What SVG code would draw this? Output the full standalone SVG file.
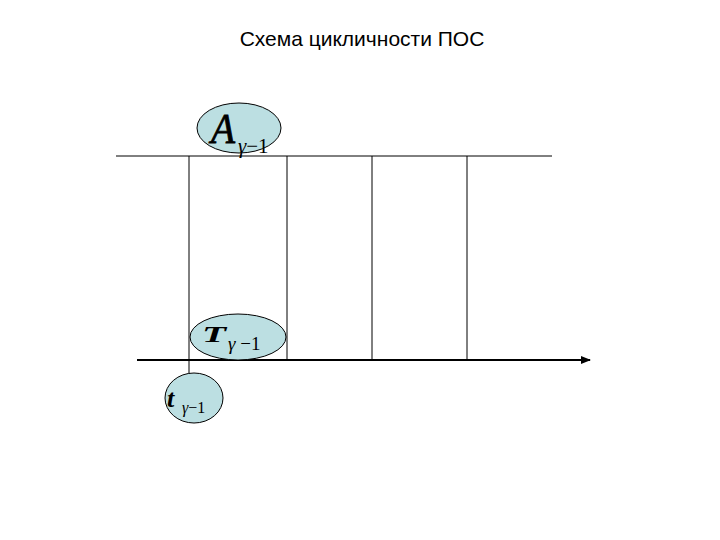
<svg xmlns="http://www.w3.org/2000/svg" width="720" height="540" viewBox="0 0 720 540">
<defs>
<style>
.ln{stroke:#000;stroke-width:1;fill:none}
.ax{stroke:#000;stroke-width:2;fill:none}
.el{fill:#bcdfe2;stroke:#000;stroke-width:1}
.m{font-family:"Liberation Serif",serif;fill:#000}
.i{font-style:italic}
.title{font-family:"Liberation Sans",Arial,sans-serif;font-size:21px;fill:#000}
</style>
<marker id="arr" markerWidth="10" markerHeight="8" refX="9" refY="4" orient="auto" markerUnits="userSpaceOnUse">
<path d="M0,0 L10,4 L0,8 Z" fill="#000"/>
</marker>
</defs>
<rect width="720" height="540" fill="#fff"/>
<text class="title" x="362" y="46" text-anchor="middle">Схема цикличности ПОС</text>
<g id="connectors">
<line class="ln" x1="116" y1="156" x2="552" y2="156"/>
<line class="ln" x1="189" y1="156" x2="189" y2="374"/>
<line class="ln" x1="287" y1="156" x2="287" y2="360"/>
<line class="ln" x1="372" y1="156" x2="372" y2="360"/>
<line class="ln" x1="467" y1="156" x2="467" y2="360"/>
<line class="ax" x1="137" y1="360" x2="590" y2="360" marker-end="url(#arr)"/>
</g>
<g id="node-A">
<ellipse class="el" cx="239" cy="128" rx="42" ry="25"/>
<text class="m i" x="211" y="143" font-size="42" stroke="#000" stroke-width="0.8" textLength="24" lengthAdjust="spacingAndGlyphs">A</text>
<text class="m" x="238" y="153" font-size="21"><tspan class="i">γ</tspan>−1</text>
</g>
<g id="node-T">
<ellipse class="el" cx="238" cy="337" rx="48" ry="23"/>
<text class="m i" x="202" y="342" font-size="23" font-weight="bold" textLength="24" lengthAdjust="spacingAndGlyphs">T</text>
<text class="m" x="228" y="350" font-size="19"><tspan class="i">γ</tspan> −1</text>
</g>
<g id="node-t">
<ellipse class="el" cx="194" cy="398" rx="29" ry="25"/>
<text class="m i" x="167" y="407" font-size="26" font-weight="bold">t</text>
<text class="m" x="182" y="413" font-size="16"><tspan class="i">γ</tspan>−1</text>
</g>
</svg>
